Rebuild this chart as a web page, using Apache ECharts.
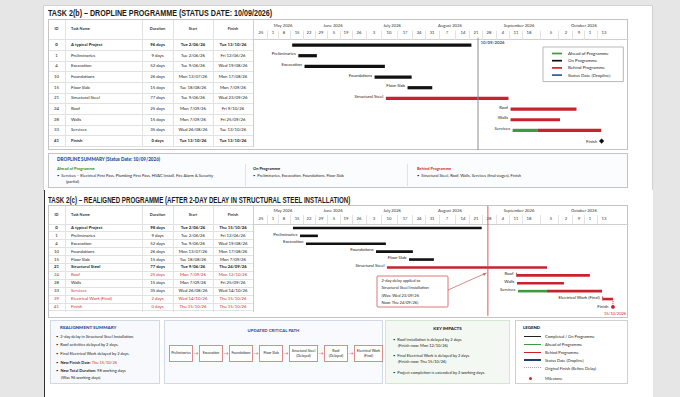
<!DOCTYPE html>
<html>
<head>
<meta charset="utf-8">
<title>Dropline and realigned programme</title>
<script src="https://cdn.jsdelivr.net/npm/echarts@6.0.0/dist/echarts.min.js"></script>
<style>
  html, body { margin: 0; padding: 0; }
  body { width: 680px; height: 397px; overflow: hidden; background: #e6e6e6; position: relative;
         font-family: Lato, 'Liberation Sans', sans-serif; color: #222; }
  .abs { position: absolute; }
  #page1 { left: 43px; top: 5px; width: 610px; height: 186px; background: #fff; border: 1px solid #d2d2d2; box-sizing: border-box; }
  #page2 { left: 44px; top: 190px; width: 609px; height: 207px; background: #fff; border-left: 1px solid #333; box-sizing: border-box; }
  .title { font-family: 'Liberation Sans', Arial, sans-serif; font-weight: bold; font-size: 9px; line-height: 10px;
           white-space: nowrap; transform-origin: 0 50%; color: #1b1b1b; }
  .frame { border: 1px solid #c4c4c4; box-sizing: border-box; }
  .cell { position: absolute; white-space: nowrap; font-size: 4.3px; text-align: center; }
  .hline { position: absolute; height: 1px; background: #e2e2e2; }
  .vline { position: absolute; width: 1px; background: #e2e2e2; }
  .panel { position: absolute; box-sizing: border-box; font-size: 4px; line-height: 5px; }
  .panel h4 { margin: 0; font-size: 4.6px; font-weight: 900; color: #1f4e9a; letter-spacing: 0.05px; }
  .blt { position: absolute; white-space: nowrap; font-size: 4px; line-height: 5px; }
  .flow { position: absolute; display: flex; align-items: center; }
  .flow .bx { border: 1px solid #dc8a8a; background: #fff; height: 17px; box-sizing: border-box; display: flex;
              align-items: center; justify-content: center; text-align: center; font-size: 3.5px; line-height: 4.2px; color: #222; }
  .flow .ar { color: #c62828; font-size: 5px; width: 6px; text-align: center; }
  .lg { position: absolute; font-size: 4px; white-space: nowrap; }
  #chart { position: absolute; left: 0; top: 0; width: 680px; height: 397px; }
</style>
</head>
<body>
<div id="page1" class="abs"></div>
<div id="page2" class="abs"></div>
<div id="title1" class="abs title" style="left:48px;top:8px">TASK 2(b) – DROPLINE PROGRAMME (STATUS DATE: 10/09/2026)</div>
<div id="title2" class="abs title" style="left:48px;top:195px">TASK 2(c) – REALIGNED PROGRAMME (AFTER 2-DAY DELAY IN STRUCTURAL STEEL INSTALLATION)</div>
<div class="abs frame" style="left:48px;top:19px;width:580px;height:131px"></div>
<div class="abs frame" style="left:48px;top:205px;width:580px;height:113px"></div>
<div id="tables"></div>

<!-- dropline summary -->
<div class="panel frame" style="left:48px;top:153px;width:580px;height:35px;background:#fbfcfe">
  <div class="blt" style="left:8px;top:3px;font-size:4.6px;font-weight:900;color:#1f4e9a">DROPLINE SUMMARY (Status Date: 10/09/2026)</div>
  <div class="blt" style="left:8px;top:12px;font-weight:700;color:#2e8b2e">Ahead of Programme</div>
  <div class="blt" style="left:8px;top:19px">•&nbsp; Services – Electrical First Pass, Plumbing First Pass, HVAC Install, Fire Alarm &amp; Security</div>
  <div class="blt" style="left:17px;top:25px">(partial)</div>
  <div class="vline" style="left:196px;top:10px;height:22px;background:#dde3ec"></div>
  <div class="blt" style="left:204px;top:12px;font-weight:700;color:#111">On Programme</div>
  <div class="blt" style="left:204px;top:19px">•&nbsp; Preliminaries, Excavation, Foundations, Floor Slab</div>
  <div class="vline" style="left:358px;top:10px;height:22px;background:#dde3ec"></div>
  <div class="blt" style="left:368px;top:12px;font-weight:700;color:#c62828">Behind Programme</div>
  <div class="blt" style="left:368px;top:19px">•&nbsp; Structural Steel, Roof, Walls, Services (final stages), Finish</div>
</div>

<!-- realignment summary -->
<div class="panel frame" style="left:50px;top:320px;width:110px;height:64px;background:#f7f9fc;border-color:#d3d9e4">
  <div class="blt" style="left:9px;top:4px;font-size:4.5px;font-weight:900;color:#1f4e9a">REALIGNMENT SUMMARY</div>
  <div class="blt" style="left:5px;top:12.5px">•&nbsp; 2-day delay in Structural Steel Installation.</div>
  <div class="blt" style="left:5px;top:21px">•&nbsp; Roof activities delayed by 2 days.</div>
  <div class="blt" style="left:5px;top:30px">•&nbsp; Final Electrical Work delayed by 2 days.</div>
  <div class="blt" style="left:5px;top:39px">•&nbsp; <b>New Finish Date:</b> <span style="color:#d32f2f">Thu 15/10/26</span></div>
  <div class="blt" style="left:5px;top:47px">•&nbsp; <b>New Total Duration:</b> 98 working days</div>
  <div class="blt" style="left:10px;top:54px">(Was 96 working days)</div>
</div>

<!-- updated critical path -->
<div class="panel frame" style="left:164px;top:320px;width:219px;height:64px;background:#f8fafd;border-color:#d3d9e4">
  <div class="blt" style="left:0;width:217px;top:7px;text-align:center;font-size:4.3px;font-weight:700;color:#1f4e9a">UPDATED CRITICAL PATH</div>
  <div id="flow" class="flow" style="left:4px;top:24px"></div>
</div>

<!-- key impacts -->
<div class="panel frame" style="left:385px;top:320px;width:125px;height:64px;background:#f3f9f2;border-color:#d6e4d3">
  <div class="blt" style="left:0;width:123px;top:5px;text-align:center;font-size:4.4px;font-weight:900;color:#222">KEY IMPACTS</div>
  <div class="blt" style="left:7px;top:16px">•&nbsp; Roof installation is delayed by 2 days</div>
  <div class="blt" style="left:12px;top:22px">(Finish now: Mon 12/10/26)</div>
  <div class="blt" style="left:7px;top:32px">•&nbsp; Final Electrical Work is delayed by 2 days</div>
  <div class="blt" style="left:12px;top:38px">(Finish now: Thu 15/10/26)</div>
  <div class="blt" style="left:7px;top:49px">•&nbsp; Project completion is extended by 2 working days.</div>
</div>

<!-- legend -->
<div class="panel frame" style="left:515px;top:320px;width:113px;height:64px;background:#fff;border-color:#d0d0d0">
  <div class="blt" style="left:7px;top:4px;font-size:4.4px;font-weight:900;color:#222">LEGEND</div>
  <div id="legend2"></div>
</div>

<div id="chart"></div>

<script>
// ---------------- timeline header ----------------
const weekLabels = ['25', '1', '8', '15', '22', '29', '5', '19', '26', '3', '10', '17', '24',
                    '31', '7', '14', '21', '28', '4', '11', '18', '5', '2', '9', '1', '13'];
const weekDays = [3.9, 9.7, 15.0, 21.4, 27.2, 33.0, 39.3, 45.1, 51.4, 58.7, 66.0, 73.8, 80.6,
                  86.9, 94.1, 101.9, 108.2, 114.5, 121.3, 127.6, 133.9, 144.6, 151.9, 158.2, 163.5, 170.3];
const monthLabels = ['May 2026', 'June 2026', 'July 2026', 'August 2026', 'September 2026', 'October 2026'];
const monthDays = [14.6, 38.8, 67.5, 95.6, 129.1, 160.6];

// ---------------- Task 2(b): dropline programme ----------------
const planIds = [0, 1, 4, 10, 15, 21, 24, 28, 33, 41];
const planNames = ['A typical Project', 'Preliminaries', 'Excavation', 'Foundations', 'Floor Slab',
                   'Structural Steel', 'Roof', 'Walls', 'Services', 'Finish'];
const planDurations = ['96 days', '9 days', '52 days', '26 days', '15 days', '77 days', '25 days', '15 days', '35 days', '0 days'];
const planStarts = ['Tue 2/06/26', 'Tue 2/06/26', 'Tue 9/06/26', 'Mon 13/07/26', 'Tue 18/08/26', 'Tue 9/06/26',
                    'Mon 7/09/26', 'Mon 7/09/26', 'Wed 26/08/26', 'Tue 13/10/26'];
const planFinishes = ['Tue 13/10/26', 'Fri 12/06/26', 'Wed 19/08/26', 'Mon 17/08/26', 'Mon 7/09/26', 'Wed 23/09/26',
                      'Fri 9/10/26', 'Fri 25/09/26', 'Tue 13/10/26', 'Tue 13/10/26'];
// bars: [row, start day, end day]
const planOnProgramme = [[0, 19, 106], [1, 22, 31], [2, 25, 64], [3, 59, 77], [4, 75, 87]];
const planAhead = [[8, 126, 138]];
const planBehind = [[5, 64.5, 124], [6, 125, 157], [7, 125, 149], [8, 138, 169]];
const planMilestones = [[9, 169.2]];
const planStatusDay = [109.2];
const planStatusText = '10/09/2026';

// ---------------- Task 2(c): realigned programme ----------------
const realIds = [0, 1, 4, 10, 15, 21, 24, 28, 33, 39, 41];
const realNames = ['A typical Project', 'Preliminaries', 'Excavation', 'Foundations', 'Floor Slab',
                   'Structural Steel', 'Roof', 'Walls', 'Services', 'Electrical Work (Final)', 'Finish'];
const realDurations = ['98 days', '9 days', '52 days', '26 days', '15 days', '77 days', '25 days', '15 days', '35 days', '2 days', '0 days'];
const realStarts = ['Tue 2/06/26', 'Tue 2/06/26', 'Tue 9/06/26', 'Mon 13/07/26', 'Tue 18/08/26', 'Tue 9/06/26',
                    'Mon 7/09/26', 'Mon 7/09/26', 'Wed 26/08/26', 'Wed 14/10/26', 'Thu 15/10/26'];
const realFinishes = ['Thu 15/10/26', 'Fri 12/06/26', 'Wed 19/08/26', 'Mon 17/08/26', 'Mon 7/09/26', 'Thu 24/09/26',
                      'Mon 12/10/26', 'Fri 25/09/26', 'Wed 14/10/26', 'Thu 15/10/26', 'Thu 15/10/26'];
const realOnProgramme = [[0, 19.4, 111], [1, 22.8, 31.5], [2, 25.7, 64.5], [3, 59.7, 77.6], [4, 75.7, 87.8]];
const realAhead = [[8, 128.6, 142.7]];
const realBehind = [[5, 65, 142.7], [6, 128.1, 163.5], [7, 128.1, 150.9], [8, 142.7, 169.4], [9, 169.9, 174.7]];
const realMilestones = [[10, 174.7]];
const realStatusDay = [114];
const realFinishText = '15/10/2026';
const delayedTasks = ['Roof', 'Electrical Work (Final)'];

// text styling of table rows (kept apart from the data)
const planBoldRows = [0, 9];
const realBoldRows = [0, 5];
const realRedRows = [6, 9, 10];
const realRedNameRows = [8];

const criticalPath = ['Preliminaries', 'Excavation', 'Foundations', 'Floor Slab',
                      'Structural Steel (Delayed)', 'Roof (Delayed)', 'Electrical Work (Final)'];
const legendItems = ['Completed / On Programme', 'Ahead of Programme', 'Behind Programme',
                     'Status Date (Dropline)', 'Original Finish (Before Delay)', 'Milestone'];

const BLACK = '#111111', GREEN = '#3d9a3d', RED = '#c8232c', BLUE = '#2c5aa0';
const FONT = 'Lato';

/* ---------------- tables ---------------- */
function buildTable(cfg) {
  const host = document.getElementById('tables');
  const cols = [48, 65, 142, 173, 213, 253];
  const heads = ['ID', 'Task Name', 'Duration', 'Start', 'Finish'];
  const add = (html, style) => {
    const d = document.createElement('div');
    d.className = 'cell';
    Object.assign(d.style, style);
    d.innerHTML = html;
    host.appendChild(d);
  };
  const bodyTop = cfg.top + cfg.headH;
  heads.forEach((h, c) => add(h, {
    left: cols[c] + 'px', width: (cols[c + 1] - cols[c]) + 'px', top: (cfg.top + cfg.headH / 2 - 3) + 'px',
    lineHeight: '6px', fontSize: '3.9px', fontWeight: 700, color: '#333',
    textAlign: c === 1 ? 'left' : 'center', paddingLeft: c === 1 ? '6px' : '0'
  }));
  // grid lines
  const line = (cls, style) => { const d = document.createElement('div'); d.className = cls; Object.assign(d.style, style); host.appendChild(d); };
  for (let i = 0; i <= cfg.ids.length; i++) {
    line('hline', { left: '49px', width: '204px', top: (bodyTop + i * cfg.rowH - 0.5) + 'px' });
  }
  for (let c = 1; c < cols.length; c++) {
    line('vline', { left: cols[c] + 'px', top: (cfg.top + 1) + 'px', height: (cfg.headH + cfg.ids.length * cfg.rowH) + 'px', background: c === 5 ? '#cfcfcf' : '#e2e2e2' });
  }
  cfg.ids.forEach((id, r) => {
    const vals = [id, cfg.names[r], cfg.durs[r], cfg.starts[r], cfg.ends[r]];
    const bold = cfg.bold.includes(r);
    const red = cfg.red.includes(r);
    vals.forEach((v, c) => add(v, {
      left: cols[c] + 'px', width: (cols[c + 1] - cols[c]) + 'px',
      top: (bodyTop + r * cfg.rowH + cfg.rowH / 2 - 3) + 'px', lineHeight: '6px',
      fontWeight: bold ? 700 : 400,
      color: (red || (c === 1 && cfg.redName.includes(r))) ? '#d32f2f' : '#222',
      textAlign: c === 1 ? 'left' : 'center', paddingLeft: c === 1 ? '6px' : '0'
    }));
  });
}
buildTable({ top: 19, headH: 20.7, rowH: 10.67, ids: planIds, names: planNames, durs: planDurations,
             starts: planStarts, ends: planFinishes, bold: planBoldRows, red: [], redName: [] });
buildTable({ top: 205, headH: 19, rowH: 7.9, ids: realIds, names: realNames, durs: realDurations,
             starts: realStarts, ends: realFinishes, bold: realBoldRows, red: realRedRows, redName: realRedNameRows });

/* ---------------- critical path flow + bottom legend ---------------- */
const flow = document.getElementById('flow');
criticalPath.forEach((name, i) => {
  if (i) { const a = document.createElement('div'); a.className = 'ar'; a.textContent = '→'; flow.appendChild(a); }
  const b = document.createElement('div');
  b.className = 'bx';
  b.style.width = (name.length > 14 ? 29 : 24) + 'px';
  b.innerHTML = name.replace(' (', '<br>(');
  flow.appendChild(b);
});
const lgHost = document.getElementById('legend2');
const lgIcons = [
  'height:1.6px;background:#222', 'height:1.6px;background:' + GREEN, 'height:1.6px;background:' + RED,
  'height:1.4px;background:#1f3f73', 'height:0;border-top:1px dotted #e39a9a', ''
];
legendItems.forEach((t, i) => {
  const y = 15.5 + i * 7.9 + (i === 5 ? 2 : 0);
  const ic = document.createElement('div');
  ic.className = 'abs';
  if (i === 5) ic.style.cssText = 'left:13px;top:' + (y - 1.5) + 'px;width:3px;height:3px;border-radius:50%;background:#c62828';
  else ic.style.cssText = 'left:8px;top:' + (y - 0.8) + 'px;width:17px;' + lgIcons[i];
  lgHost.appendChild(ic);
  const tx = document.createElement('div');
  tx.className = 'lg';
  tx.style.cssText = 'left:29px;top:' + (y - 2.5) + 'px;line-height:5px';
  tx.textContent = t;
  lgHost.appendChild(tx);
});

/* fit the two condensed titles to their widths in the picture */
[['title1', 224], ['title2', 302]].forEach(([id, w]) => {
  const el = document.getElementById(id);
  el.style.transform = 'scaleX(' + (w / el.scrollWidth).toFixed(3) + ')';
});

/* ---------------- gantt charts ---------------- */
function firstStarts(...lists) {
  const m = {};
  lists.flat().forEach(([r, s]) => { if (m[r] === undefined || s < m[r]) m[r] = s; });
  return m;
}
const planFirst = firstStarts(planOnProgramme, planAhead, planBehind);
const realFirst = firstStarts(realOnProgramme, realAhead, realBehind);

function barRenderer(names, first, color, thick, brackets) {
  return (params, api) => {
    const row = api.value(0);
    const a = api.coord([api.value(1), row]);
    const b = api.coord([api.value(2), row]);
    const kids = [{ type: 'rect', shape: { x: a[0], y: a[1] - thick / 2, width: b[0] - a[0], height: thick }, style: { fill: color } }];
    const isFirst = row > 0 && first[row] === api.value(1);
    let gap = 2.5;
    if (isFirst && brackets && delayedTasks.includes(names[row])) {
      kids.push({ type: 'line', shape: { x1: a[0] - 0.5, y1: a[1] - 2.6, x2: a[0] - 0.5, y2: a[1] + 1.5 }, style: { stroke: color, lineWidth: 0.8 } });
      gap = 3.5;
    }
    if (isFirst) {
      kids.push({ type: 'text', style: { text: names[row], x: a[0] - gap, y: a[1] + 0.2, align: 'right', verticalAlign: 'bottom',
                                         fontSize: 4.3, fontFamily: FONT, fill: '#222' } });
    }
    return { type: 'group', children: kids };
  };
}

function statusRenderer(color, width, extTop, extBottom, label) {
  return (params, api) => {
    const x = api.coord([api.value(0), 0])[0];
    const cs = params.coordSys;
    const kids = [{ type: 'line', shape: { x1: x, y1: cs.y - extTop, x2: x, y2: cs.y + cs.height + extBottom },
                    style: { stroke: color, lineWidth: width } }];
    if (label) {
      kids.push({ type: 'text', style: { text: label, x: x + 2.5, y: cs.y + 2.5, align: 'left', verticalAlign: 'middle',
                                         fontSize: 4.3, fontFamily: FONT, fontWeight: 'bold', fill: BLUE } });
    }
    return { type: 'group', children: kids };
  };
}

function milestoneRenderer(names, kind, dateText) {
  return (params, api) => {
    const row = api.value(0);
    const p = api.coord([api.value(1), row]);
    const kids = [];
    if (kind === 'diamond') {
      kids.push({ type: 'polygon', shape: { points: [[p[0], p[1] - 2.6], [p[0] + 2.6, p[1]], [p[0], p[1] + 2.6], [p[0] - 2.6, p[1]]] }, style: { fill: BLACK } });
    } else {
      const up = api.coord([api.value(1), row - 1]);
      kids.push({ type: 'line', shape: { x1: p[0], y1: up[1], x2: p[0], y2: p[1] }, style: { stroke: RED, lineWidth: 0.8, lineDash: [1.2, 0.8] } });
      kids.push({ type: 'circle', shape: { cx: p[0], cy: p[1], r: 1.9 }, style: { fill: RED } });
      kids.push({ type: 'text', style: { text: dateText, x: p[0] - 9, y: p[1] + 6.5, align: 'left', verticalAlign: 'middle',
                                         fontSize: 4, fontFamily: FONT, fill: RED } });
    }
    kids.push({ type: 'text', style: { text: names[row], x: p[0] - 4.5, y: p[1] + (kind === 'diamond' ? 0 : -0.5), align: 'right', verticalAlign: 'middle',
                                       fontSize: 4.3, fontFamily: FONT, fill: '#222' } });
    return { type: 'group', children: kids };
  };
}

const mids = weekDays.slice(1).map((d, i) => (d + weekDays[i]) / 2);
const labelFor = (days, labels) => (v) => {
  const i = days.findIndex((d) => Math.abs(d - v) < 1e-6);
  return i < 0 ? '' : labels[i];
};

function weekAxis(grid, margin) {
  return {
    type: 'value', gridIndex: grid, position: 'top', min: 0, max: 182,
    axisLine: { show: true, lineStyle: { color: '#cfcfcf', width: 1 } },
    axisTick: { show: true, customValues: mids, length: 9, lineStyle: { color: '#e3e3e3', width: 1 } },
    axisLabel: { customValues: weekDays, formatter: labelFor(weekDays, weekLabels), margin: margin,
                 fontSize: 4.2, fontFamily: FONT, color: '#333' },
    splitLine: { show: false }
  };
}
function monthAxis(grid, offset, margin) {
  return {
    type: 'value', gridIndex: grid, position: 'top', offset: offset, min: 0, max: 182,
    axisLine: { show: false }, axisTick: { show: false }, splitLine: { show: false },
    axisLabel: { customValues: monthDays, formatter: labelFor(monthDays, monthLabels), margin: margin,
                 fontSize: 4.2, fontFamily: FONT, color: '#333' }
  };
}
function rowAxis(grid, names) {
  return { type: 'category', gridIndex: grid, data: names, inverse: true,
           axisLine: { show: false }, axisTick: { show: false }, axisLabel: { show: false }, splitLine: { show: false } };
}
function bars(name, grid, data, names, first, color, thick, brackets) {
  return { name: name, type: 'custom', xAxisIndex: grid * 2, yAxisIndex: grid, data: data,
           encode: { x: [1, 2], y: 0 }, itemStyle: { color: color },
           renderItem: barRenderer(names, first, color, thick, brackets), silent: true };
}

const chart = echarts.init(document.getElementById('chart'), null, { renderer: 'svg' });
chart.setOption({
  animation: false,
  backgroundColor: 'transparent',
  grid: [
    { left: 253, top: 39.7, width: 375, height: 106.7 },
    { left: 253, top: 224, width: 375, height: 86.9 }
  ],
  xAxis: [weekAxis(0, 5.2), monthAxis(0, 7, 5.2), weekAxis(1, 3.2), monthAxis(1, 8.6, 3.2)],
  yAxis: [rowAxis(0, planNames), rowAxis(1, realNames)],
  legend: {
    left: 543, top: 47, orient: 'vertical', icon: 'rect', itemWidth: 10, itemHeight: 1.7, itemGap: 3.2,
    padding: [4.5, 13, 4.5, 9], borderColor: '#b9b9b9', borderWidth: 1, selectedMode: false,
    textStyle: { fontSize: 4.4, fontFamily: FONT, color: '#222', padding: [0, 0, 0, 1] },
    data: ['Ahead of Programme', 'On Programme', 'Behind Programme', 'Status Date (Dropline)']
  },
  graphic: [
    { type: 'rect', shape: { x: 377, y: 276, width: 71, height: 31, r: 1 }, style: { fill: '#fff', stroke: '#d46a6a', lineWidth: 0.9 }, z: 10 },
    { type: 'text', x: 381.5, y: 277, z: 11,
      style: { text: '2-day delay applied to\nStructural Steel Installation\n(Was: Wed 23/09/26\nNow: Thu 24/09/26)',
               fontSize: 4, lineHeight: 7.3, fontFamily: FONT, fill: '#222' } },
    { type: 'line', shape: { x1: 448, y1: 290, x2: 485, y2: 273.5 }, style: { stroke: '#d46a6a', lineWidth: 0.8 }, z: 10 },
    { type: 'polygon', shape: { points: [[487, 272.6], [482.6, 273.4], [484.0, 276.0]] }, style: { fill: '#d46a6a' }, z: 10 }
  ],
  series: [
    bars('On Programme', 0, planOnProgramme, planNames, planFirst, BLACK, 3.2, false),
    bars('Ahead of Programme', 0, planAhead, planNames, planFirst, GREEN, 3.2, false),
    bars('Behind Programme', 0, planBehind, planNames, planFirst, RED, 3.2, false),
    { name: 'Status Date (Dropline)', type: 'custom', xAxisIndex: 0, yAxisIndex: 0, itemStyle: { color: BLUE },
      data: planStatusDay.map((d) => [d, 0]), encode: { x: 0, y: 1 }, silent: true,
      renderItem: statusRenderer('#8d8d8d', 1, 2, 3.5, planStatusText) },
    { name: 'Finish milestone', type: 'custom', xAxisIndex: 0, yAxisIndex: 0, data: planMilestones,
      encode: { x: 1, y: 0 }, silent: true, renderItem: milestoneRenderer(planNames, 'diamond') },

    bars('Realigned on programme', 1, realOnProgramme, realNames, realFirst, BLACK, 2.6, true),
    bars('Realigned ahead', 1, realAhead, realNames, realFirst, GREEN, 2.6, true),
    bars('Realigned behind', 1, realBehind, realNames, realFirst, RED, 2.6, true),
    { name: 'Realigned status date', type: 'custom', xAxisIndex: 2, yAxisIndex: 1, itemStyle: { color: RED },
      data: realStatusDay.map((d) => [d, 0]), encode: { x: 0, y: 1 }, silent: true,
      renderItem: statusRenderer('#d04a4a', 0.9, 18, 5, '') },
    { name: 'Realigned finish', type: 'custom', xAxisIndex: 2, yAxisIndex: 1, data: realMilestones,
      encode: { x: 1, y: 0 }, silent: true, renderItem: milestoneRenderer(realNames, 'dot', realFinishText) }
  ]
});
</script>
</body>
</html>
